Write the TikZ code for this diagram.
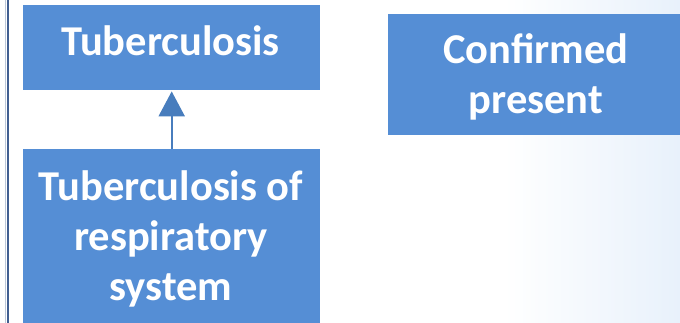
\documentclass[tikz,border=0pt]{standalone}
\usepackage{fontspec}
\setmainfont{Carlito}
\usetikzlibrary{arrows.meta}
\definecolor{boxblue}{RGB}{85,142,213}
\definecolor{arrowblue}{RGB}{72,125,189}
\definecolor{edgeblue}{RGB}{65,95,145}
\definecolor{bgblue}{RGB}{232,241,251}
\pgfdeclarehorizontalshading{bgsh}{100bp}{color(0bp)=(white); color(25bp)=(white); color(62bp)=(white); color(75bp)=(bgblue); color(100bp)=(bgblue)}
\tikzset{
  box/.style={fill=boxblue, draw=none, inner sep=0pt},
  boxtext/.style={text=white, font=\fontsize{42.5}{50}\selectfont\bfseries, align=center, inner sep=0pt},
  link/.style={draw=arrowblue, line width=2.2pt, -{Triangle[length=25pt, width=26pt]}, shorten >=1pt}
}
\begin{document}
\begin{tikzpicture}[x=1pt, y=-1pt]
\useasboundingbox (0,0) rectangle (680,322);
\shade[shading=bgsh] (0,0) rectangle (680,322);
\draw[edgeblue!35, line width=1pt] (5.3,-2) -- (5.3,324);
\draw[edgeblue, line width=1.8pt] (7.6,-2) -- (7.6,324);
% boxes
\node[box, minimum width=297pt, minimum height=85pt, anchor=north west] (tb) at (23,5) {};
\node[box, minimum width=297pt, minimum height=176pt, anchor=north west] (trs) at (23,149) {};
\node[box, minimum width=292pt, minimum height=121pt, anchor=north west] (cp) at (388,14) {};
% texts
\node[boxtext, anchor=base] (tbt) at (170.5,55) {Tuberculosis};
\node[boxtext, anchor=base] (trst) at (171,300) {Tuberculosis of\\respiratory\\system};
\node[boxtext, anchor=base] (cpt) at (536,113) {Confirmed\\present};
% arrow
\draw[link] (trs.north) -- (tb.south);
\end{tikzpicture}
\end{document}
